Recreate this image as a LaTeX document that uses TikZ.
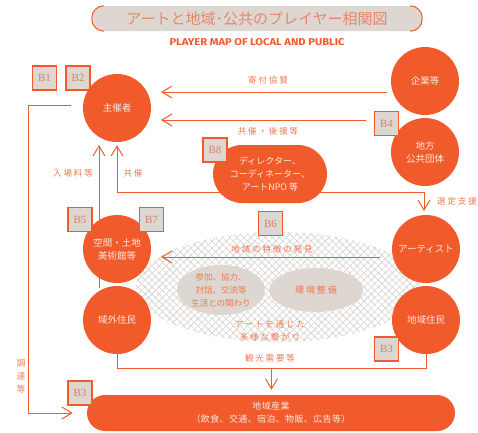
\documentclass[tikz,border=0pt]{standalone}
\usepackage{fontspec}
\setmainfont{Liberation Serif}
\newfontfamily\jp{Noto Sans CJK JP}
\newfontfamily\jpl[LetterSpace=22]{Noto Sans CJK JP}
\newfontfamily\jpt[LetterSpace=4]{Noto Sans CJK JP}
\newfontfamily\subfont{Fira Sans}
\usetikzlibrary{arrows.meta,patterns.meta,calc,shapes.geometric}
\definecolor{org}{HTML}{F15A2B}
\definecolor{lorg}{HTML}{EF7A50}
\definecolor{torg}{HTML}{E8866A}
\definecolor{gfill}{HTML}{DDD6D1}
\definecolor{btext}{HTML}{D4836A}
\definecolor{ctext}{HTML}{FCE8DE}
\definecolor{hatch}{HTML}{D6D0CC}
\pgfdeclarelayer{bg}\pgfdeclarelayer{mid}\pgfsetlayers{bg,mid,main}
\begin{document}
\begin{tikzpicture}[x=1pt,y=-1pt,
  circ/.style={circle,fill=org,minimum size=68pt,inner sep=0pt,text=ctext,font=\jp\fontsize{9.5}{13}\selectfont,align=center},
  pill/.style={rectangle,fill=org,inner sep=0pt,text=ctext,font=\jp\fontsize{9}{13}\selectfont,align=center},
  bbox/.style={rectangle,draw=org,line width=1.3pt,fill=gfill,minimum width=24pt,minimum height=24pt,inner sep=0pt,text=btext,font=\fontsize{11}{11}\selectfont},
  lab/.style={text=lorg,font=\jpl\fontsize{8.5}{13}\selectfont,align=center,inner sep=0pt},
  gell/.style={ellipse,fill=gfill,inner sep=0pt},
  conn/.style={draw=org,line width=1pt},
  arr/.style={conn,-{Straight Barb[length=10pt,width=12pt,line width=1pt]}},
  arrboth/.style={conn,{Straight Barb[length=10pt,width=12pt,line width=1pt]}-{Straight Barb[length=10pt,width=12pt,line width=1pt]}},
]
\useasboundingbox (0,0) rectangle (478,432);

% title
\node[fill=gfill,rounded corners=12pt,minimum width=330pt,minimum height=25pt,inner sep=0pt,text=torg,font=\jp\fontsize{15}{15}\selectfont] (title) at (257,18.5) {アートと地域･公共のプレイヤー相関図};
\begin{scope}
\clip (80,0) rectangle (104,40);
\draw[org,line width=1pt,rounded corners=12pt] (title.south west) rectangle (title.north east);
\end{scope}
\begin{scope}
\clip (410,0) rectangle (440,40);
\draw[org,line width=1pt,rounded corners=12pt] (title.south west) rectangle (title.north east);
\end{scope}
\node[inner sep=0pt,text=org] (sub) at (257,42) {\resizebox{175pt}{7pt}{\subfont\bfseries PLAYER MAP OF LOCAL AND PUBLIC}};

% hatched area
\begin{pgfonlayer}{bg}
\fill[pattern={Lines[angle=45,distance=5pt,line width=0.6pt]},pattern color=hatch] (278,287) ellipse [x radius=142pt,y radius=55pt];
\fill[pattern={Lines[angle=-45,distance=5pt,line width=0.6pt]},pattern color=hatch] (278,287) ellipse [x radius=142pt,y radius=55pt];
\end{pgfonlayer}
\node[gell,minimum width=88pt,minimum height=50pt] (e1) at (221,290) {};
\node[gell,minimum width=94pt,minimum height=44pt] (e2) at (316,290) {};
\node[lab,font=\jp\fontsize{8.5}{13}\selectfont] (t1) at (221,290) {参加、協力、\\対話、交流等\\生活との関わり};
\node[lab,font=\jpl\fontsize{9}{13}\selectfont] (t2) at (316,290) {環境整備};
\node[lab] (t3) at (270,331) {アートを通じた\\多様な繋がり};

% circles
\node[circ] (shusai) at (117,108) {主催者};
\node[circ] (kigyo) at (425,81) {企業等};
\node[circ] (chiho) at (425,152) {地方\\公共団体};
\node[circ] (artist) at (426,249) {アーティスト};
\node[circ] (jumin) at (426,320) {地域住民};
\node[circ] (kukan) at (117,249) {空間・土地\\美術館等};
\node[circ] (ikigai) at (117,320) {域外住民};

% pills
\node[pill,minimum width=114pt,minimum height=58pt,rounded corners=29pt] (dir) at (270,174) {ディレクター、\\コーディネーター、\\アートNPO 等};
\node[pill,minimum width=368pt,minimum height=36pt,rounded corners=18pt,font=\jpt\fontsize{9}{13}\selectfont] (sangyo) at (271,413) {地域産業\\（飲食、交通、宿泊、物販、広告等）};

% B labels
\node[bbox] (b1) at (44.5,78) {B1};
\node[bbox] (b2) at (78,78) {B2};
\node[bbox] (b8) at (215,150) {B8};
\node[bbox] (b4) at (386.5,123.5) {B4};
\node[bbox] (b5) at (80,219.5) {B5};
\node[bbox] (b7) at (151.5,219.5) {B7};
\node[bbox] (b6) at (270.5,223.5) {B6};
\node[bbox] (b3r) at (386.5,349) {B3};
\node[bbox] (b3b) at (80,393) {B3};

% connectors
\begin{pgfonlayer}{mid}
\draw[arr] ($(kigyo.center)+(-38,11)$) -- ($(shusai.center)+(44,-16)$);
\draw[arr] ($(chiho.center)+(-59,-32)$) -- ($(shusai.center)+(44,12)$);
\draw[arr] ($(ikigai.center)+(-18,-32)$) -- ($(shusai.center)+(-18,37)$);
\draw[arrboth] ($(shusai.south)+(0,3)$) |- ($(artist.center)+(-2,-57)$) -- ($(artist.center)+(-2,-38)$);
\draw[arr] ($(artist.center)+(-46,8)$) -- ($(kukan.center)+(44,8)$);
\draw[conn] (ikigai.south) |- ($(jumin.south)+(0,14)$) -- (jumin.south);
\coordinate (m) at ($(ikigai.south)!0.5!(jumin.south)+(0,14)$);
\draw[arr] (m) -- ($(m |- sangyo.north)+(0,-5)$);
\draw[arr] ($(shusai.west)+(-12,-3)$) -- ++(-42,0) |- ($(sangyo.west)+(-14,0)$);
\end{pgfonlayer}

% labels
\node[lab] (l1) at (268,80) {寄付協賛};
\node[lab] (l2) at (268,131) {共催・後援等};
\node[lab] (l3) at (73,173) {入場料等};
\node[lab] (l4) at (133,173) {共催};
\node[lab] (l5) at (457,201) {選定支援};
\node[lab] (l6) at (272,249) {地域の特徴の発見};
\node[lab] (l7) at (270,358) {観光需要等};
\node[lab] (l8) at (21,376) {調\\達\\等};
\end{tikzpicture}
\end{document}
